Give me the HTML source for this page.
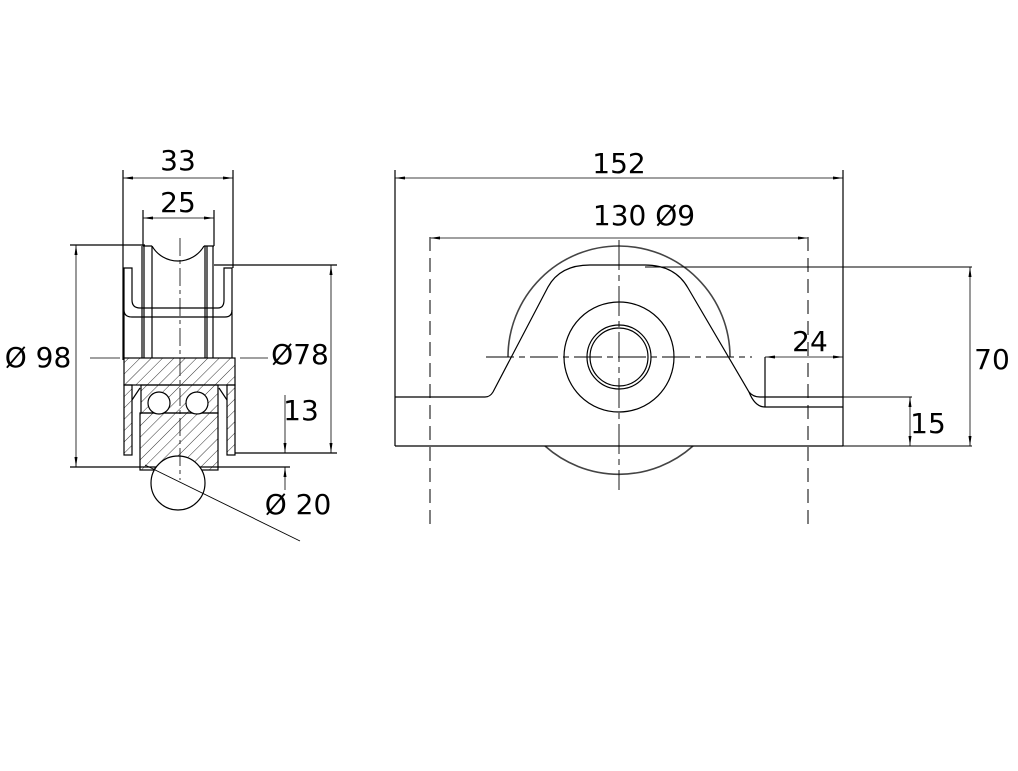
<!DOCTYPE html>
<html><head><meta charset="utf-8"><style>
html,body{margin:0;padding:0;background:#fff}
svg{display:block}
text{font-family:"DejaVu Sans","Liberation Sans",sans-serif;fill:#000}
</style></head><body>
<svg width="1018" height="771" viewBox="0 0 1018 771" xmlns="http://www.w3.org/2000/svg">
<defs>
<pattern id="h" width="8" height="8" patternUnits="userSpaceOnUse" patternTransform="rotate(45)">
<line x1="0" y1="0" x2="0" y2="8" stroke="#000" stroke-width="0.8"/>
</pattern>
<marker id="a" markerWidth="10" markerHeight="6" refX="10" refY="3" orient="auto-start-reverse" markerUnits="userSpaceOnUse">
<path d="M0,1.5 L10,3 L0,4.5 z" fill="#000"/>
</marker>
</defs>
<g fill="none" stroke="#000" stroke-width="1.2">
<!-- LEFT VIEW -->
<!-- dimension 33 -->
<line x1="123" y1="170" x2="123" y2="360"/>
<line x1="233" y1="170" x2="233" y2="268"/>
<line x1="123" y1="178" x2="233" y2="178" marker-start="url(#a)" marker-end="url(#a)" stroke-width="0.8"/>
<!-- dimension 25 -->
<line x1="143" y1="210" x2="143" y2="246"/>
<line x1="214" y1="210" x2="214" y2="246"/>
<line x1="143" y1="218" x2="214" y2="218" marker-start="url(#a)" marker-end="url(#a)" stroke-width="0.8"/>
<!-- wheel flanges -->
<path d="M142,246 V358 M144,246 V358 M152,246 V358 M143,246 H152"/>
<path d="M205,246 V358 M207,246 V358 M213,246 V358 M204,246 H214"/>
<path d="M152,246 A30,30 0 0 0 204,246"/>
<!-- bracket U -->
<path d="M124,358 V268 H132 V300 Q132,308 140,308 H218 Q224,308 224,300 V268 H232 V310 Q232,317 225,317 H132 Q124,317 124,310"/>
<line x1="232" y1="310" x2="232" y2="358"/>
<!-- Ø98 dim -->
<line x1="70" y1="245" x2="145" y2="245"/>
<line x1="70" y1="467" x2="290" y2="467"/>
<line x1="76" y1="245" x2="76" y2="467" marker-start="url(#a)" marker-end="url(#a)" stroke-width="0.8"/>
<!-- Ø78 dim -->
<line x1="214" y1="265" x2="337" y2="265"/>
<line x1="235" y1="453" x2="337" y2="453"/>
<line x1="331" y1="265" x2="331" y2="453" marker-start="url(#a)" marker-end="url(#a)" stroke-width="0.8"/>
<!-- 13 dim -->
<line x1="285" y1="395" x2="285" y2="453" stroke-width="0.8" marker-end="url(#a)"/>
<line x1="285" y1="467" x2="285" y2="490" stroke-width="0.8" marker-start="url(#a)"/>
<!-- hub hatched -->
<rect x="124" y="358" width="111" height="27" fill="url(#h)"/>
<rect x="124" y="385" width="8" height="70" fill="url(#h)"/>
<rect x="227" y="385" width="8" height="70" fill="url(#h)"/>
<rect x="141" y="385" width="77" height="28" fill="url(#h)"/>
<rect x="140" y="413" width="78" height="57" fill="url(#h)"/>
<circle cx="159" cy="403" r="11" fill="#fff"/>
<circle cx="197" cy="403" r="11" fill="#fff"/>
<path d="M132,400 L140,388 M227,400 L219,388"/>
<circle cx="178" cy="483" r="27" fill="#fff"/>
<line x1="145" y1="465" x2="300" y2="541" stroke-width="0.9"/>
<!-- center lines -->
<line x1="180" y1="238" x2="180" y2="480" stroke-dasharray="18,4,4,4" stroke-width="0.8"/>
<line x1="90" y1="358" x2="120" y2="358" stroke-width="0.8"/>
<line x1="240" y1="358" x2="268" y2="358" stroke-width="0.8"/>

<!-- RIGHT VIEW -->
<line x1="395" y1="170" x2="395" y2="446"/>
<line x1="843" y1="170" x2="843" y2="446"/>
<line x1="395" y1="178" x2="843" y2="178" marker-start="url(#a)" marker-end="url(#a)" stroke-width="0.8"/>
<line x1="430" y1="238" x2="808" y2="238" marker-start="url(#a)" marker-end="url(#a)" stroke-width="0.8"/>
<line x1="430" y1="237" x2="430" y2="528" stroke="#555" stroke-dasharray="14,7" stroke-width="1.5"/>
<line x1="808" y1="237" x2="808" y2="528" stroke="#555" stroke-dasharray="14,7" stroke-width="1.5"/>
<!-- wheel -->
<path d="M508,357 A111,111 0 0 1 730,357" stroke="#444" stroke-width="1.6"/>
<path d="M545,446 A111,111 0 0 0 693,446" stroke="#444" stroke-width="1.6"/>
<!-- base -->
<path d="M395,446 H843 M395,397 H485 Q490,397 493,392 L548,287 Q560,265 590,265 H645 Q675,265 688,288 L749,392 Q753,397 760,397 H843"/>
<path d="M749,392 Q755,407 765,407 H843"/>
<line x1="765" y1="357" x2="765" y2="407"/>
<line x1="765" y1="357" x2="843" y2="357" marker-start="url(#a)" marker-end="url(#a)" stroke-width="0.8"/>
<!-- hub -->
<circle cx="619" cy="357" r="55"/>
<circle cx="619" cy="357" r="32"/>
<circle cx="619" cy="357" r="29"/>
<!-- centerlines -->
<line x1="619" y1="240" x2="619" y2="490" stroke-dasharray="30,5,6,5" stroke-width="0.9"/>
<line x1="486" y1="357" x2="752" y2="357" stroke-dasharray="28,5,6,5" stroke-width="0.9"/>
<!-- 70 and 15 -->
<line x1="645" y1="267" x2="972" y2="267" stroke-width="0.9"/>
<line x1="843" y1="446" x2="972" y2="446" stroke-width="0.9"/>
<line x1="970" y1="267" x2="970" y2="446" marker-start="url(#a)" marker-end="url(#a)" stroke-width="0.8"/>
<line x1="843" y1="397" x2="912" y2="397" stroke-width="0.9"/>
<line x1="910" y1="397" x2="910" y2="446" marker-start="url(#a)" marker-end="url(#a)" stroke-width="0.8"/>
</g>
<g font-size="28">
<text x="178" y="170" text-anchor="middle">33</text>
<text x="178" y="212" text-anchor="middle">25</text>
<text x="38" y="367" text-anchor="middle">Ø 98</text>
<text x="300" y="364" text-anchor="middle">Ø78</text>
<text x="301" y="420" text-anchor="middle">13</text>
<text x="298" y="514" text-anchor="middle">Ø 20</text>
<text x="619" y="173" text-anchor="middle">152</text>
<text x="644" y="225" text-anchor="middle">130 Ø9</text>
<text x="810" y="351" text-anchor="middle">24</text>
<text x="992" y="369" text-anchor="middle">70</text>
<text x="928" y="433" text-anchor="middle">15</text>
</g>
</svg>
</body></html>
